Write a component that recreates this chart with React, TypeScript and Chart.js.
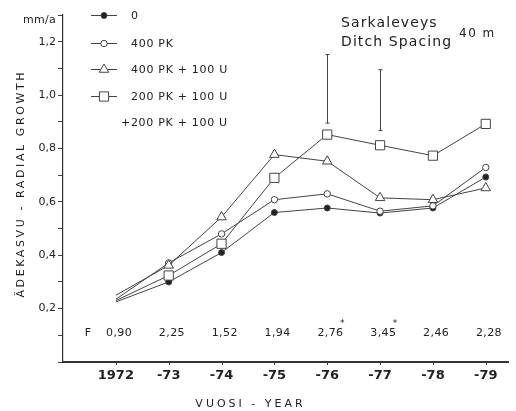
import React, { useEffect, useRef } from 'react';
import { Chart, registerables } from 'chart.js';

Chart.register(...registerables);

// ---- data ----
const YEARS = [1972, 1973, 1974, 1975, 1976, 1977, 1978, 1979];
const YEAR_LABELS = ['1972', '-73', '-74', '-75', '-76', '-77', '-78', '-79'];

const S_0 = [0.225, 0.3, 0.41, 0.56, 0.577, 0.558, 0.577, 0.693];
const S_400PK = [0.235, 0.371, 0.48, 0.608, 0.63, 0.565, 0.585, 0.729];
const S_400PK_100U = [0.25, 0.362, 0.543, 0.777, 0.752, 0.615, 0.608, 0.652];
const S_200PK_100U = [0.23, 0.324, 0.443, 0.69, 0.852, 0.812, 0.773, 0.892];

const ERR_LOW: (number | null)[] = [null, null, null, null, 0.895, 0.867, null, null];
const ERR_HIGH: (number | null)[] = [null, null, null, null, 1.152, 1.095, null, null];

const F_VALUES = ['0,90', '2,25', '1,52', '1,94', '2,76', '3,45', '2,46', '2,28'];
const F_SIGNIF = [false, false, false, false, true, true, false, false];

const LEGEND_LABELS = ['0', '400 PK', '400 PK + 100 U', '200 PK + 100 U'];
const LEGEND_EXTRA = '+200 PK + 100 U';

const TITLE_1 = 'Sarkaleveys';
const TITLE_2 = 'Ditch Spacing';
const TITLE_3 = '40 m';
const Y_TITLE = 'ÄDEKASVU - RADIAL GROWTH';
const X_TITLE = 'VUOSI - YEAR';
const Y_UNIT = 'mm/a';

const INK = '#222';
const LINE = '#444';
const FONT = '"DejaVu Sans", sans-serif';

type Marker = { style: 'circle' | 'triangle' | 'rect'; r: number; fill: string };
const MARKERS: Marker[] = [
  { style: 'circle', r: 3, fill: '#222' },
  { style: 'circle', r: 3.2, fill: '#fff' },
  { style: 'triangle', r: 5.5, fill: '#fff' },
  { style: 'rect', r: 6.5, fill: '#fff' },
];

function drawMarker(ctx: CanvasRenderingContext2D, m: Marker, x: number, y: number) {
  ctx.save();
  ctx.beginPath();
  if (m.style === 'circle') {
    ctx.arc(x, y, m.r, 0, Math.PI * 2);
  } else if (m.style === 'triangle') {
    for (let k = 0; k < 3; k++) {
      const a = -Math.PI / 2 + (k * 2 * Math.PI) / 3;
      const px = x + Math.cos(a) * m.r;
      const py = y + Math.sin(a) * m.r;
      if (k === 0) ctx.moveTo(px, py);
      else ctx.lineTo(px, py);
    }
    ctx.closePath();
  } else {
    const h = m.r * Math.SQRT1_2;
    ctx.rect(x - h, y - h, 2 * h, 2 * h);
  }
  ctx.fillStyle = m.fill;
  ctx.fill();
  ctx.strokeStyle = LINE;
  ctx.lineWidth = 1;
  ctx.stroke();
  ctx.restore();
}

function text(
  ctx: CanvasRenderingContext2D,
  s: string,
  x: number,
  y: number,
  font: string,
  spacing: number,
  align: CanvasTextAlign = 'left',
  baseline: CanvasTextBaseline = 'alphabetic'
) {
  ctx.save();
  ctx.font = font;
  (ctx as any).letterSpacing = spacing + 'px';
  ctx.fillStyle = INK;
  ctx.textAlign = align;
  ctx.textBaseline = baseline;
  let xx = x;
  if (align === 'center') xx += spacing / 2;
  ctx.fillText(s, xx, y);
  ctx.restore();
}

const decorPlugin = {
  id: 'decor',
  beforeDraw(chart: any) {
    const ctx = chart.ctx;
    ctx.save();
    ctx.fillStyle = '#fff';
    ctx.fillRect(0, 0, chart.width, chart.height);
    ctx.restore();
  },
  afterDraw(chart: any) {
    const ctx: CanvasRenderingContext2D = chart.ctx;
    const xs = chart.scales.x;
    const ys = chart.scales.y;
    const area = chart.chartArea;

    // x axis line with small tick marks
    ctx.save();
    ctx.fillStyle = '#333';
    const by = Math.round(ys.getPixelForValue(0));
    ctx.fillRect(Math.round(area.left) - 1, by - 1, Math.round(area.right - area.left) + 1, 2);
    YEARS.forEach((yr) => {
      const x = Math.round(xs.getPixelForValue(yr));
      ctx.fillRect(x, by, 1, 3);
    });
    ctx.restore();

    // error bars
    ctx.save();
    ctx.strokeStyle = LINE;
    ctx.lineWidth = 1;
    YEARS.forEach((yr, i) => {
      const lo = ERR_LOW[i];
      const hi = ERR_HIGH[i];
      if (lo == null || hi == null) return;
      const x = Math.round(xs.getPixelForValue(yr)) + 0.5;
      const y1 = ys.getPixelForValue(lo);
      const y2 = ys.getPixelForValue(hi);
      ctx.beginPath();
      ctx.moveTo(x, y1);
      ctx.lineTo(x, y2);
      ctx.moveTo(x - 2, y1);
      ctx.lineTo(x + 2, y1);
      ctx.moveTo(x - 2, y2);
      ctx.lineTo(x + 2, y2);
      ctx.stroke();
    });
    ctx.restore();

    // legend
    const legY = [15, 43, 69, 96];
    LEGEND_LABELS.forEach((lab, i) => {
      const y = legY[i];
      ctx.save();
      ctx.strokeStyle = LINE;
      ctx.lineWidth = 1;
      ctx.beginPath();
      ctx.moveTo(91, y + 0.5);
      ctx.lineTo(117, y + 0.5);
      ctx.stroke();
      ctx.restore();
      drawMarker(ctx, MARKERS[i], 104, y + 0.5);
      text(ctx, lab, 131, y + 1, `11px ${FONT}`, 0.7, 'left', 'middle');
    });
    text(ctx, LEGEND_EXTRA, 121, 123, `11px ${FONT}`, 0.7, 'left', 'middle');

    // title block
    text(ctx, TITLE_1, 341, 27, `14px ${FONT}`, 1.1);
    text(ctx, TITLE_2, 341, 46, `14px ${FONT}`, 1.1);
    text(ctx, TITLE_3, 459, 37, `12px ${FONT}`, 1.5);

    // unit
    text(ctx, Y_UNIT, 56, 20, `11px ${FONT}`, 0.3, 'right', 'middle');

    // F row
    const fy = area.bottom - 29;
    text(ctx, 'F', 88, fy, `11px ${FONT}`, 0.3, 'center', 'middle');
    YEARS.forEach((yr, i) => {
      const x = xs.getPixelForValue(yr) + 3;
      text(ctx, F_VALUES[i], x, fy, `11px ${FONT}`, 0.4, 'center', 'middle');
      if (F_SIGNIF[i]) text(ctx, '*', x + 12, fy - 9, `9px ${FONT}`, 0, 'center', 'middle');
    });

    // y title
    ctx.save();
    ctx.translate(21, 185);
    ctx.rotate(-Math.PI / 2);
    text(ctx, Y_TITLE, 0, 0, `11px ${FONT}`, 2.6, 'center', 'middle');
    ctx.restore();

    // x title
    text(ctx, X_TITLE, 249, 404, `11px ${FONT}`, 3, 'center', 'middle');
  },
};

const SERIES = [S_0, S_400PK, S_400PK_100U, S_200PK_100U];

export default function App() {
  const ref = useRef<HTMLCanvasElement | null>(null);

  useEffect(() => {
    if (!ref.current) return;
    const datasets = SERIES.map((s, si) => {
      const m = MARKERS[si];
      return {
        label: LEGEND_LABELS[si],
        data: YEARS.map((x, i) => ({ x, y: s[i] })),
        borderColor: LINE,
        borderWidth: 1,
        tension: 0,
        pointStyle: m.style,
        pointRadius: YEARS.map((_, i) => (i === 0 ? 0 : m.r)),
        pointHoverRadius: YEARS.map((_, i) => (i === 0 ? 0 : m.r)),
        pointBackgroundColor: m.fill,
        pointBorderColor: LINE,
        pointBorderWidth: 1,
        fill: false,
        order: 3 - si,
      };
    });

    const chart = new Chart(ref.current, {
      type: 'line',
      data: { datasets },
      options: {
        animation: false,
        responsive: false,
        devicePixelRatio: 1,
        layout: { padding: { top: 15, right: 3, left: 0, bottom: 0 } },
        plugins: {
          legend: { display: false },
          tooltip: { enabled: false },
          title: { display: false },
        },
        scales: {
          x: {
            type: 'linear',
            min: 1971,
            max: 1979.43,
            afterBuildTicks: (scale: any) => {
              scale.ticks = YEARS.map((v) => ({ value: v }));
            },
            afterFit: (scale: any) => {
              scale.height = 49;
            },
            grid: { drawOnChartArea: false, drawTicks: false },
            border: { display: false },
            ticks: {
              autoSkip: false,
              maxRotation: 0,
              padding: 6,
              color: INK,
              font: { family: FONT, size: 13, weight: 'bold' },
              callback: (v: any) => {
                const i = YEARS.indexOf(Number(v));
                return i >= 0 ? YEAR_LABELS[i] : '';
              },
            },
          },
          y: {
            type: 'linear',
            min: 0,
            max: 1.3,
            afterFit: (scale: any) => {
              scale.width = 63;
            },
            grid: { drawOnChartArea: false, drawTicks: true, tickLength: 5, color: LINE },
            border: { color: '#333', width: 1.2 },
            ticks: {
              stepSize: 0.1,
              padding: 2,
              color: INK,
              font: { family: FONT, size: 11 },
              callback: (v: any) => {
                const r = Math.round(Number(v) * 10);
                if (r > 0 && r < 13 && r % 2 === 0) return (r / 10).toFixed(1).replace('.', ',');
                return '';
              },
            },
          },
        },
      } as any,
      plugins: [decorPlugin],
    });
    return () => chart.destroy();
  }, []);

  return (
    <div style={{ position: 'fixed', left: 0, top: 0, width: 516, height: 411, background: '#fff' }}>
      <canvas ref={ref} width={516} height={411} style={{ display: 'block', width: 516, height: 411 }} />
    </div>
  );
}
